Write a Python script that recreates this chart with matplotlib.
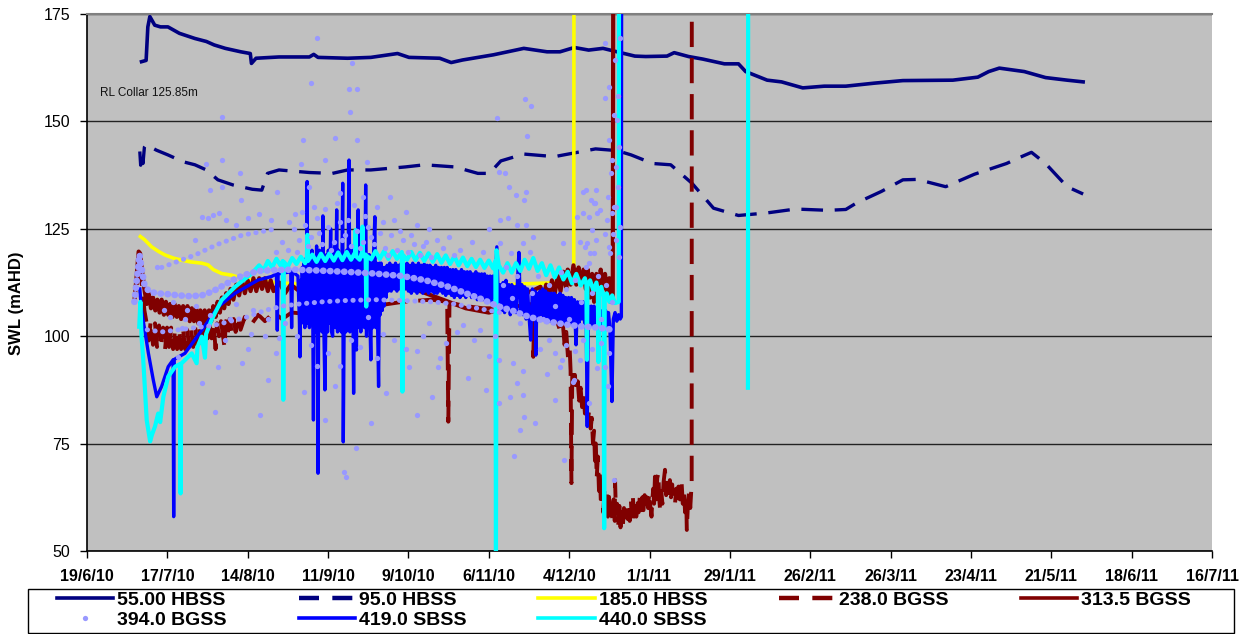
import numpy as np
import matplotlib
matplotlib.use('Agg')
import matplotlib.pyplot as plt
import matplotlib.dates as mdates
from matplotlib.lines import Line2D
from matplotlib.patches import Rectangle
from datetime import datetime, timedelta

plt.rcParams['font.family'] = ['Liberation Sans', 'DejaVu Sans']

# x values are days since 19/6/10, y values are SWL (mAHD)
START = datetime(2010, 6, 19)

navy_55 = [(19.0, 163.9), (20.6, 164.2), (21.2, 172.0), (21.9, 174.4), (23.6, 172.4), (25.6, 172.0),
           (28.2, 172.0), (32.2, 170.5), (37.6, 169.3), (41.6, 168.6), (44.3, 167.8), (48.2, 167.0),
           (53.6, 166.2), (56.9, 165.8), (57.3, 163.5), (58.9, 164.7), (66.9, 165.0), (77.5, 165.0),
           (79.0, 165.6), (80.5, 164.9), (90.8, 164.7), (98.9, 164.9), (108.2, 165.8), (112.2, 164.9),
           (122.9, 164.7), (126.9, 163.7), (130.9, 164.3), (141.6, 165.5), (152.2, 167.0), (160.3, 166.2),
           (164.8, 166.2), (169.8, 167.2), (174.8, 166.6), (179.8, 167.0), (184.7, 166.2), (190.9, 165.2),
           (194.7, 165.1), (202.1, 165.2), (204.6, 166.0), (209.6, 165.1), (214.6, 164.5), (222.1, 163.4),
           (227.0, 163.4), (229.5, 161.6), (237.0, 159.6), (242.0, 159.2), (249.4, 157.8), (256.9, 158.2),
           (264.4, 158.2), (274.3, 158.9), (284.3, 159.5), (301.7, 159.6), (310.4, 160.3), (314.2, 161.6),
           (317.9, 162.4), (326.6, 161.6), (334.0, 160.2), (341.5, 159.6), (347.1, 159.2)]

navy_95 = [(18.4, 143.0), (18.7, 139.8), (19.1, 142.8), (19.5, 140.2), (20.0, 144.0), (20.6, 144.6),
           (24.2, 143.3), (28.2, 142.2), (33.5, 140.6), (37.6, 139.9), (41.6, 138.7), (45.6, 136.4),
           (50.9, 135.2), (57.6, 134.2), (60.9, 134.0), (62.9, 137.9), (66.9, 138.7), (77.5, 138.1),
           (85.5, 137.9), (90.8, 138.7), (98.9, 138.7), (110.9, 139.4), (117.6, 139.9), (128.2, 139.4),
           (136.2, 137.9), (140.2, 137.9), (144.2, 140.8), (152.2, 142.4), (162.9, 141.8), (170.9, 142.8),
           (177.2, 143.6), (184.7, 143.2), (189.6, 142.2), (197.1, 140.2), (203.4, 139.9), (210.8, 135.6),
           (218.3, 129.8), (227.0, 128.1), (237.0, 128.7), (246.9, 129.6), (258.2, 129.3), (264.4, 129.5),
           (268.1, 131.0), (276.8, 133.7), (284.3, 136.4), (289.3, 136.5), (299.2, 134.8), (309.2, 137.7),
           (320.4, 140.2), (325.3, 141.7), (329.1, 142.8), (334.0, 140.2), (341.5, 134.8), (347.1, 133.1)]

yellow_185 = [(18.6, 123.2), (20.0, 122.5), (22.5, 120.8), (25.0, 119.7), (27.2, 118.9), (30.0, 118.2),
              (33.0, 117.7), (36.0, 117.3), (40.0, 117.0), (42.2, 116.6), (44.0, 115.5), (46.9, 114.6),
              (50.4, 114.2), (55.0, 113.3), (60.9, 112.7), (70.0, 112.3), (85.0, 111.8), (100.0, 111.3),
              (115.0, 111.0), (130.0, 111.5), (145.0, 112.0), (165.0, 112.5), (169.6, 112.8), (169.7, 200.0)]

dkred_238 = [(17.5, 112), (18.3, 119), (19.0, 113), (20.0, 106), (20.8, 103), (21.5, 99), (22.2, 103.5),
             (23.0, 98), (23.7, 103), (24.4, 97.5), (25.1, 102.5), (25.8, 97.5), (26.5, 102), (27.2, 97),
             (27.9, 102), (28.6, 97.5), (29.3, 102), (30.0, 97), (30.7, 101.5), (31.4, 97), (32.1, 101.5),
             (32.8, 97), (33.5, 101.5), (34.2, 97), (34.9, 101.5), (35.6, 97.5), (36.3, 101.5), (37.0, 97.5),
             (37.7, 102), (38.4, 98), (39.1, 102), (39.8, 98.5), (40.5, 102.5), (41.0, 96.8), (41.3, 102.5),
             (42.0, 99.5), (42.7, 103), (43.4, 99.5), (44.1, 103), (44.8, 97), (45.3, 103), (46.0, 100),
             (46.7, 103.5), (47.4, 100), (48.0, 97), (48.3, 103.5), (49.0, 100.5), (49.7, 104), (50.4, 101),
             (51.1, 104), (51.8, 101), (52.5, 104.5), (53.5, 101.5), (55.0, 104.5), (57.0, 102.5),
             (59.7, 105), (62.0, 103.5), (65.0, 105.5), (68.0, 104), (71.3, 105.5), (80.0, 105), (90.0, 106),
             (100.0, 107), (110.0, 108), (120.0, 108.5), (125.5, 108), (125.9, 80.1), (126.3, 107.8),
             (132.0, 107), (138.0, 106.5), (145.0, 106.5), (150.0, 107), (155.0, 107.5), (155.5, 95.2),
             (155.9, 107.5), (160.0, 107), (163.0, 105), (165.0, 101),
             (165.8, 103), (166.4, 98), (167.0, 101), (167.6, 95), (168.2, 97), (168.5, 92), (168.8, 65.8),
             (169.1, 92), (169.5, 89), (170.0, 91), (170.5, 87), (171.0, 89.5), (171.5, 85), (172.0, 88),
             (172.5, 83.5), (173.0, 86.5), (173.5, 82), (174.0, 85), (174.5, 80), (175.0, 83), (175.5, 78.5),
             (175.9, 81), (176.3, 75), (176.7, 78), (177.0, 71), (177.3, 75), (177.6, 67), (178.0, 72),
             (178.4, 64), (178.7, 68), (179.1, 60.5), (179.5, 65),
             (179.9, 59), (180.3, 64), (180.7, 58.5), (181.1, 63.5), (181.5, 58), (181.9, 62.6), (182.3, 57),
             (182.7, 61), (183.1, 56.5), (183.5, 62), (183.9, 57), (184.0, 66.5), (184.3, 58.8), (184.7, 61),
             (185.1, 56), (185.5, 60.5), (185.9, 55.5), (186.3, 59), (186.7, 55.7), (187.1, 60), (187.5, 56.5),
             (187.9, 59.5), (188.3, 57.5), (188.7, 61), (189.1, 57), (189.5, 62), (189.8, 58), (190.2, 62.6),
             (190.6, 58), (191.0, 61.5), (191.4, 58), (191.8, 62.5), (192.2, 59), (192.7, 63.4), (193.1, 59.5),
             (193.5, 62.5), (193.9, 59.5), (194.3, 63), (194.7, 60), (195.1, 62.5), (195.5, 60), (195.9, 63.5),
             (196.3, 60.5), (196.7, 58), (197.0, 62), (197.3, 64.5), (197.6, 61), (197.9, 67.3), (198.3, 62),
             (198.7, 67), (199.1, 68.1), (199.4, 62), (199.7, 59.5), (200.1, 64), (200.5, 61), (200.9, 66),
             (201.4, 68.9), (201.8, 63), (202.2, 67), (202.6, 63.5), (203.1, 66.5), (203.5, 62.5), (203.9, 65.5),
             (204.3, 61), (204.9, 61.1), (205.3, 64.5), (205.7, 61.5), (206.1, 65), (206.6, 62), (207.2, 65.8),
             (207.6, 61), (208.0, 64), (208.4, 59), (208.8, 62), (209.0, 54.9), (209.4, 61), (209.8, 64),
             (210.2, 60), (210.7, 65.8), (210.75, 200)]

dkred_313 = [(16.5, 108), (17.3, 114), (18.0, 119.7), (18.5, 119.3), (19.2, 115), (20.0, 111), (20.8, 107.5),
             (21.5, 110), (22.3, 106.5), (23.0, 109), (23.8, 106), (24.5, 108.5), (25.3, 105.5), (26.0, 108.5),
             (26.8, 105), (27.5, 108), (28.3, 105), (29.0, 107.5), (29.8, 104.5), (30.5, 107.5), (31.3, 104.5),
             (32.0, 107), (32.8, 104), (33.5, 107), (34.3, 104), (35.0, 107), (35.8, 103.5), (36.5, 106.5),
             (37.3, 103.5), (38.0, 106.5), (38.8, 103), (39.5, 106), (40.3, 103), (41.0, 106), (41.8, 103),
             (42.5, 106), (43.3, 103.5), (44.0, 107), (44.8, 104.5), (45.5, 108), (46.3, 105.5), (47.0, 109),
             (47.8, 106.5), (48.5, 110), (49.3, 107.5), (50.0, 111), (51, 108.5), (52, 112), (53, 109.5),
             (54, 113), (55, 110), (56, 113), (57, 110.5), (58, 113.5), (59, 110.5), (60, 113.5), (61, 111),
             (62, 113.5), (63, 110.5), (64, 113), (65, 110.5), (67, 112.5), (69, 110), (71, 112), (75, 110),
             (80, 110), (85, 110.3), (90, 110.5), (95, 110.8), (100, 111), (104, 111.5), (108, 112),
             (112, 111.5), (116, 110.5), (120, 109.5), (124, 108.5), (128, 107.5), (132, 106.5), (136, 106),
             (140, 105.5), (143, 106), (147, 108), (151, 109.5), (155, 110.5), (158, 111.5), (159, 108.5),
             (160, 112), (161, 109), (162, 113), (163, 110), (164, 114), (165, 110.5), (166, 115), (167, 111),
             (167.5, 115.5), (168.5, 112), (169.5, 116.5), (170.5, 112), (171.3, 116), (172, 112.5),
             (173, 115.5), (173.8, 111), (174.5, 115.5), (175.3, 109), (176, 114.5), (176.7, 108),
             (177.5, 114.5), (178.3, 110.5), (179, 115.5), (179.8, 111), (180.5, 114.5), (181.3, 109.5),
             (182, 113.5), (182.5, 108), (183.2, 109), (183.4, 200)]

blue_419 = [(18.4, 111), (19.0, 106), (19.5, 104), (20.2, 101), (21.4, 96), (23.1, 89.8), (24.3, 85.9),
            (26.0, 88.3), (28.3, 92.9), (30.0, 94.5), (30.2, 58.0), (30.4, 94.6), (34.1, 96.0), (40.0, 101.4),
            (45.8, 106.9), (51.6, 110.0), (59.7, 113.1), (64.3, 113.9), (66.0, 114.5), (66.3, 101.4),
            (66.6, 114.5), (71.0, 115.0), (71.3, 102.0), (71.6, 115.0),
            (73.5, 114), (74.0, 104), (74.2, 95.2), (74.4, 113), (74.7, 103), (75.0, 116), (75.3, 104),
            (75.6, 117), (75.9, 102), (76.2, 118), (76.5, 104), (76.7, 136), (76.9, 103), (77.2, 119),
            (77.5, 102), (77.8, 118), (78.1, 103), (78.4, 120), (78.7, 102), (78.9, 80.5), (79.1, 103),
            (79.4, 118), (79.7, 101), (80.0, 121), (80.3, 104), (80.5, 68.1), (80.7, 103), (81.0, 120),
            (81.3, 102), (81.6, 119), (81.9, 101), (82.2, 128), (82.5, 103), (82.9, 87.5), (83.2, 102),
            (83.5, 119), (83.8, 101), (84.1, 120), (84.4, 103), (84.9, 125), (85.2, 101), (85.6, 100),
            (85.9, 119), (86.3, 121), (86.6, 102), (87.0, 129.4), (87.3, 101), (87.6, 120), (87.9, 102),
            (88.3, 119), (88.6, 101), (89.1, 135.6), (89.3, 75.4), (89.6, 103), (89.9, 118), (90.2, 101),
            (90.5, 120), (90.8, 102), (91.3, 141), (91.6, 101), (91.9, 119), (92.2, 102), (92.4, 121),
            (92.7, 103), (92.9, 86.7), (93.1, 102), (93.4, 119), (93.7, 102), (93.9, 96.8), (94.1, 118),
            (94.5, 129.4), (94.8, 102), (95.1, 119), (95.4, 101), (95.8, 120), (96.1, 103), (96.4, 118),
            (96.7, 102), (97.1, 135.2), (97.4, 100), (97.7, 118), (98.0, 102), (98.3, 119), (98.6, 103),
            (98.9, 94.5), (99.2, 117), (99.5, 102), (99.8, 118), (100.3, 127.8), (100.6, 102), (100.9, 117),
            (101.2, 104), (101.6, 88.3), (101.9, 117), (102.2, 105), (102.5, 117), (102.9, 106), (103.2, 116),
            (103.5, 107), (103.8, 116), (104.2, 109), (104.6, 116.5),
            (105.0, 110.5), (105.5, 117), (106.0, 110.5), (106.5, 116.5), (107.0, 111), (107.5, 117),
            (108.0, 110.5), (108.5, 116.5), (109.0, 111), (109.5, 117), (110.0, 110.5), (110.5, 116.5),
            (111.0, 111), (111.5, 117), (112.0, 110.5), (112.5, 116.5), (113.0, 110), (113.5, 117),
            (114.0, 110.5), (114.5, 116.5), (115.0, 110), (115.5, 117), (116.0, 110.5), (116.5, 116.5),
            (117.0, 110), (117.5, 116.8), (118.0, 110.5), (118.5, 116.5), (119.0, 110), (119.5, 116.5),
            (120.0, 110.5), (120.5, 116), (121.0, 110), (121.5, 116.5), (122.0, 110), (122.5, 116),
            (123.0, 110.5), (123.5, 116), (124.0, 110), (124.5, 116), (125.0, 109.5), (125.5, 116),
            (126.0, 110), (126.5, 115.5), (127.0, 109.5), (127.5, 115.5), (128.0, 109), (128.5, 115.5),
            (129.0, 109.5), (129.5, 115), (130.0, 109), (130.5, 115.5), (131.0, 109.5), (131.5, 115),
            (132.0, 109), (132.5, 115), (133.0, 109.5), (133.5, 115), (134.0, 109), (134.5, 114.5),
            (135.0, 109), (135.5, 115), (136.0, 108.5), (136.5, 114.5), (137.0, 109), (137.5, 114.5),
            (138.0, 108.5), (138.5, 114.5), (139.0, 108), (139.5, 114), (140.0, 108.5), (140.5, 114),
            (141.0, 108), (141.5, 114), (142.0, 109), (142.8, 120.8), (143.3, 108),
            (144.0, 112), (144.5, 106), (145.0, 112.5), (145.5, 105.5), (146.0, 113), (146.5, 106),
            (147.0, 112), (147.5, 105), (148.0, 112), (148.5, 106), (149.0, 111.5), (149.5, 105.5),
            (150.0, 113), (150.5, 119.5), (151.0, 106), (151.5, 112), (152.0, 105), (152.5, 111.5),
            (153.0, 104), (153.5, 111), (154.0, 105), (154.6, 99.1), (155.2, 111), (155.7, 104.5),
            (156.1, 110.5), (156.4, 95.6), (156.8, 110), (157.3, 104), (157.8, 110.5), (158.3, 105),
            (158.8, 111), (159.3, 104), (159.8, 110.5), (160.3, 104), (160.8, 110), (161.3, 103.5),
            (161.8, 110), (162.3, 103), (162.8, 110), (163.3, 104), (163.8, 109.5), (164.3, 103.5),
            (164.8, 110), (165.3, 103), (165.8, 109.5), (166.3, 103), (166.8, 109), (167.3, 103.5),
            (167.8, 109), (168.3, 103), (168.8, 109), (169.3, 103), (169.8, 108.5), (170.4, 98), (170.9, 108),
            (171.4, 103), (171.9, 108), (172.4, 104), (172.9, 108), (173.4, 103), (173.9, 107.5), (174.3, 79),
            (174.7, 107), (175.2, 103), (175.7, 107), (176.2, 102.5), (176.7, 107), (177.2, 102),
            (177.7, 106.5), (178.2, 102), (178.7, 106), (179.2, 101.5), (179.7, 106), (180.2, 101),
            (180.7, 106), (181.2, 101.5), (181.7, 105.5), (182.2, 102), (182.9, 84.8), (183.4, 104),
            (184.0, 105.5), (184.6, 103.5), (185.2, 105), (185.8, 104), (186.2, 104.5), (186.3, 200)]

cyan_440 = [(18.2, 102.2), (18.6, 108), (19.0, 100), (19.6, 94.5), (20.8, 80.5), (22.0, 75.5), (22.6, 77.0),
            (23.7, 79.0), (24.8, 82.0), (25.5, 80.0), (26.6, 85.9), (28.3, 90.6), (30.7, 92.9), (32.4, 93.5),
            (32.6, 63.4), (32.8, 93.6), (36.5, 96.0), (38.2, 93.7), (38.5, 97.5), (40.0, 99.9), (41.1, 95.0),
            (41.5, 100.5), (43.4, 103.8), (46.9, 108.4), (51.6, 111.5), (57.4, 114.6), (60, 116.5),
            (61.5, 115.3), (63, 117.5), (64.5, 116), (66, 118), (67.5, 116.4), (68.2, 117.5), (68.4, 85.2),
            (68.6, 117.3), (70, 116.2), (71.5, 118.2), (73, 116.8), (74.5, 118.5), (76, 117), (76.6, 118),
            (76.8, 123.6), (77.0, 117.5), (78.5, 119), (80, 117.3), (81.5, 119.2), (83, 117.5), (84.5, 119.3),
            (86, 117.6), (87.5, 119.5), (89, 117.7), (90.5, 119.6), (92, 117.8), (93.4, 119.5), (93.6, 124.7),
            (93.8, 118.6), (95, 117.8), (95.8, 119.5), (96.0, 125.5), (96.2, 118.6), (97.1, 119),
            (97.3, 106.9), (97.5, 118.7), (99, 117.9), (100.5, 119.8), (102, 118), (103.5, 119.8), (105, 118),
            (106.5, 119.8), (108, 118), (109.7, 119.6), (109.9, 87.1), (110.1, 118.9), (111.5, 117.8),
            (113, 119.6), (114.5, 117.7), (116, 119.4), (117.5, 117.5), (119, 119.3), (120.5, 117.3),
            (122, 119.1), (123.5, 117.1), (125, 118.8), (126.5, 116.8), (128, 118.6), (129.5, 116.5),
            (131, 118.3), (132.5, 116.3), (134, 118), (135.5, 116.1), (137, 117.8), (138.5, 115.9), (140, 117.6),
            (141.5, 115.8), (142.3, 117.5), (142.5, 49), (142.7, 120), (143.5, 116.5), (145, 114.8),
            (146.5, 117), (148, 114.8), (149.5, 117), (151, 115.2), (152.5, 117.8), (154, 115.7), (155.5, 118.2),
            (157, 115.2), (158.5, 117), (160, 114.2), (161.5, 116.5), (163, 113.7), (164.5, 116), (166, 113.2),
            (167.5, 115), (169, 112.3), (170.5, 114.5), (172, 111.8), (173.5, 113.5), (174.0, 112),
            (174.2, 94.5), (174.4, 111.8), (175.3, 113), (176.5, 110.5), (177.5, 112.5), (178.0, 110.5),
            (178.2, 94.0), (178.4, 110.0), (179.2, 111.5), (180.0, 109), (180.2, 55.3), (180.4, 108.7),
            (181.1, 110), (182, 108), (183, 109.5), (184.0, 107.7), (185.3, 108), (185.4, 200),
            (np.nan, np.nan), (230.3, 88.0), (230.4, 200.0)]

# 394.0 BGSS: dense bands of readings plus scattered readings
purple_band_main = [(16.5, 108), (17.5, 114), (18.3, 119), (19.0, 116), (20.0, 112), (21.5, 110.5), (24, 110),
                    (28, 109.8), (32, 109.5), (36, 109.3), (40, 109.5), (44, 110.5), (48, 112), (52, 113.5),
                    (56, 114.5), (60, 115.2), (66, 115.4), (72, 115.5), (80, 115.3), (90, 115), (100, 114.6),
                    (110, 114), (118, 113), (126, 111.5), (132, 110), (138, 108.5), (143, 107), (148, 106),
                    (154, 104.5), (160, 103.5), (166, 102.8), (172, 102.3), (178, 102), (183, 101.5)]
purple_band_low = [(21, 101.5), (26, 101), (32, 101.5), (38, 102), (44, 102.5), (50, 103.5), (56, 104.5),
                   (62, 106), (68, 107), (74, 107.5), (82, 108), (90, 108.3), (100, 108.5), (110, 108.3),
                   (120, 108), (128, 107.5), (136, 106.5), (144, 105.5)]
purple_band_high = [(26, 116), (30, 117), (34, 118), (38, 119), (42, 120.3), (46, 121.5), (50, 122.5),
                    (54, 123.5), (58, 124), (62, 124.5), (66, 125)]
purple_394 = [
    (24.3, 116.2), (31.8, 95.2), (37.6, 122.4), (40, 89), (44.6, 82.4), (45.8, 92.9), (53.9, 93.7),
    (60.3, 81.6), (63.2, 89.8), (27, 106), (29, 104.5), (33, 102), (35, 106), (39, 103), (43, 105), (48, 99),
    (50, 104), (56, 97), (58, 106), (62, 100), (66, 96), (69, 103), (30, 108), (34, 104), (38, 107),
    (52, 107.5), (57, 100.5), (63, 104), (67, 99.5), (73, 100),
    (41.6, 140.2), (42.8, 134), (46.9, 134.8), (47.2, 141), (47.2, 151.1), (53.3, 138.1), (53.6, 131.7),
    (40.2, 127.8), (42, 127.5), (44, 128.3), (46, 128.7), (48.5, 127), (52, 126), (56, 127.5), (60, 128.5),
    (64, 127), (66.2, 133.6),
    (74.6, 140.2), (75.3, 145.7), (77.5, 134.8), (78.2, 158.9), (80.2, 169.5), (82.9, 141), (86.3, 146.1),
    (88.2, 133.3), (91.2, 157.5), (91.5, 152.3), (92.2, 163.5), (94.2, 157.5), (94.2, 145.7), (96.2, 132.5),
    (97.5, 140.6), (105.6, 132.5), (72, 125), (74, 122.5), (76, 126), (78, 123), (80, 127.5), (82, 121.5),
    (84, 125.5), (86, 122), (88, 126.5), (90, 123.5), (92, 121), (94, 124.5), (96, 122), (98, 125.5),
    (100, 121.5), (102, 124), (104, 120.5), (106, 123.5), (108, 120), (110, 122.5), (112, 119.5),
    (114, 121.5), (116, 119), (118, 122), (120, 118.5), (124, 120.5), (128, 119),
    (66, 119.5), (68, 122), (70, 120), (70.5, 126.5), (72.5, 128.5), (73, 119.5), (75, 129), (77, 121),
    (79, 130), (81, 124), (83, 129.5), (85, 120), (87, 131), (89, 122.5), (91, 127), (93, 130.5),
    (95, 120.5), (97, 128), (99, 123), (101, 130), (103, 126.5), (105, 119), (107, 127), (109, 124.5),
    (111, 129), (113, 123.5), (115, 126), (117, 121), (119, 125), (122, 122.5), (126, 123), (130, 120),
    (134, 122), (138, 119.5), (140, 125),
    (75.6, 87.1), (82.9, 80.5), (86.3, 88.3), (89.5, 68.5), (90.2, 67.3), (93.6, 73.9), (98.9, 79.7),
    (104.2, 86.7), (112.2, 92.9), (114.9, 81.6), (120.2, 85.9), (122.2, 92.9), (132.9, 90.2), (138.9, 87.5),
    (143.6, 84.4), (78, 98), (84, 96), (88, 93), (95, 97.5), (101, 95), (107, 99), (111, 97), (117, 100),
    (125, 98.5), (129, 101), (135, 99), (80, 93), (92, 99), (98, 104.5), (103, 100.5), (115, 96.5),
    (119, 103), (123, 95), (131, 102.5), (137, 101.5), (140, 95.5), (142, 100),
    (142.9, 150.9), (143.5, 138.3), (143.9, 127), (143.9, 121.6), (145.6, 137.9), (146.8, 127.4),
    (146.9, 134.8), (147.9, 119.3), (149.6, 132.9), (149.7, 125.9), (152, 121.6), (152.3, 131.7),
    (152.6, 155.1), (152.9, 133.6), (153.1, 125.9), (153.3, 146.6), (154.3, 119.7), (154.6, 153.7),
    (155.5, 123.2), (165.9, 121.6), (170.9, 127.8), (171.8, 122), (172.8, 133.6), (174.1, 121.6),
    (175.3, 119.3), (177, 130.9), (177.5, 134), (177.6, 128.6), (178.7, 129.4), (180.5, 123.9),
    (181.1, 127), (182.2, 119.3), (183.3, 123.9), (184.5, 130.1),
    (143.4, 94.5), (147.4, 85.9), (148.6, 93.7), (148.9, 72), (149.7, 89), (150.9, 78.2), (152, 91.8),
    (152, 86.3), (152.2, 81.3), (156.2, 79.7), (160.2, 91.3), (162.9, 85.2), (164.8, 92.9), (165.4, 94.5),
    (166.2, 71.2), (169.4, 89.4), (169.6, 89.8), (171.8, 94.5), (174.9, 84.4), (177.6, 92.5), (180.5, 92.9),
    (181.6, 88.3), (183.6, 66.5), (158, 97), (161, 99), (163, 96), (167, 98), (170, 96.5), (173, 99),
    (176, 97), (179, 98.5), (182, 96),
    (145, 112), (146, 116), (148, 109), (150, 114), (151, 103), (155, 110), (157, 114), (159, 104),
    (161, 112), (163, 107), (165, 115), (167, 111), (168, 104), (170, 113), (172, 108), (174, 116),
    (176, 110), (178, 114), (179, 104), (181, 112), (183, 108),
    (180.4, 168.2), (184, 164.3), (185.6, 169.3), (182, 158.1), (185, 155.8), (180.6, 155.4), (183.5, 151.5),
    (184.7, 150.3), (181.8, 145.7), (185.3, 144.1), (183, 141), (184.2, 139.5), (182.5, 137.9), (185, 134.8),
    (181.5, 132.5), (183.8, 130.1), (182.8, 128.6), (185.8, 125.5), (184.5, 122.4), (182, 120.8),
    (185.2, 118.5), (174, 134), (175.5, 131.7), (176.5, 130.9), (173, 128.6), (174.8, 127.8), (176, 124.7),
    (177.5, 122.4), (173.6, 120.8), (176.8, 119.3), (175, 117)]

y_ticks = [50, 75, 100, 125, 150, 175]
tick_step_days = 28
n_ticks = 15


def xy(pairs):
    d = np.array([p[0] for p in pairs], dtype=float)
    v = np.array([p[1] for p in pairs], dtype=float)
    return mdates.date2num(START) + d, v


fig = plt.figure(figsize=(12.56, 6.34), dpi=100)
ax = fig.add_axes([87 / 1256, 1 - 551 / 634, 1125 / 1256, 537 / 634])
ax.set_facecolor('#C0C0C0')

NAVY, YEL, DKR, PUR, BLU, CYA = '#000080', '#FFFF00', '#800000', '#9999FF', '#0000FF', '#00FFFF'

ax.plot(*xy(navy_55), color=NAVY, lw=2.6, zorder=2, solid_joinstyle='round')
ax.plot(*xy(navy_95), color=NAVY, lw=2.4, dashes=(6.5, 3.5), zorder=2)
ax.plot(*xy(yellow_185), color=YEL, lw=2.6, zorder=2.5)
ax.plot(*xy(dkred_238), color=DKR, lw=2.8, dashes=(6.5, 2.8), zorder=3)
ax.plot(*xy(dkred_313), color=DKR, lw=3.0, zorder=3)
ax.plot(*xy(blue_419), color=BLU, lw=2.4, zorder=4)
ax.plot(*xy(cyan_440), color=CYA, lw=3.0, zorder=5)
ax.plot(*xy(purple_band_main), color=PUR, lw=4.8, dashes=(0.05, 1.0), dash_capstyle='round', zorder=6)
ax.plot(*xy(purple_band_low), color=PUR, lw=3.6, dashes=(0.05, 1.5), dash_capstyle='round', zorder=6)
ax.plot(*xy(purple_band_high), color=PUR, lw=3.6, dashes=(0.05, 1.5), dash_capstyle='round', zorder=6)
ax.plot(*xy(purple_394), linestyle='none', marker='o', markersize=3.8, color=PUR,
        markeredgewidth=0, zorder=6)

ax.text(13 / 1125, 0.853, 'RL Collar 125.85m', transform=ax.transAxes,
        fontsize=8.5, va='center', ha='left', color='#111111')

# axes
tick_dates = [START + timedelta(days=tick_step_days * i) for i in range(n_ticks)]
ax.set_xlim(mdates.date2num(tick_dates[0]), mdates.date2num(tick_dates[-1]))
ax.set_xticks(mdates.date2num(tick_dates))
ax.set_xticklabels([f'{d.day}/{d.month}/{d.year % 100}' for d in tick_dates],
                   fontsize=11.5, fontweight='bold')
ax.set_ylim(50, 175)
ax.set_yticks(y_ticks)
ax.set_yticklabels([str(t) for t in y_ticks], fontsize=11.5)
ax.tick_params(axis='x', direction='out', length=5, width=1, pad=8)
ax.tick_params(axis='y', direction='out', length=5, width=1, pad=7)
ax.yaxis.grid(True, color='#222222', lw=1)
ax.set_axisbelow(True)
for s in ['left', 'bottom']:
    ax.spines[s].set_color('black')
    ax.spines[s].set_linewidth(1.2)
ax.spines['top'].set_color('#808080')
ax.spines['top'].set_linewidth(1.5)
ax.spines['right'].set_visible(False)

fig.text(17 / 1256, 1 - 303 / 634, 'SWL (mAHD)', rotation=90, fontsize=12, fontweight='bold',
         ha='center', va='center')

handles = {
    '55.00 HBSS': Line2D([], [], color=NAVY, lw=2.6),
    '95.0 HBSS': Line2D([], [], color=NAVY, lw=3.2, dashes=(4.5, 3.0)),
    '185.0 HBSS': Line2D([], [], color=YEL, lw=2.6),
    '238.0 BGSS': Line2D([], [], color=DKR, lw=3.2, dashes=(4.5, 3.0)),
    '313.5 BGSS': Line2D([], [], color=DKR, lw=2.6),
    '394.0 BGSS': Line2D([], [], linestyle='none', marker='o', markersize=3.8, color=PUR, markeredgewidth=0),
    '419.0 SBSS': Line2D([], [], color=BLU, lw=2.6),
    '440.0 SBSS': Line2D([], [], color=CYA, lw=2.6),
}
# legend fills column by column, so order the entries to read across rows
order = ['55.00 HBSS', '394.0 BGSS', '95.0 HBSS', '419.0 SBSS', '185.0 HBSS', '440.0 SBSS',
         '238.0 BGSS', '313.5 BGSS']
leg = fig.legend([handles[k] for k in order], order, ncol=5, loc='upper left',
                 bbox_to_anchor=(57 / 1256, 1 - 591 / 634), borderaxespad=0, borderpad=0,
                 frameon=False, handlelength=2.9, handletextpad=0.2, columnspacing=3.7,
                 labelspacing=0.12, prop={'weight': 'bold', 'size': 14})
fig.patches.append(Rectangle((28 / 1256, 1 / 634), 1206 / 1256, 44 / 634, transform=fig.transFigure,
                             fill=False, edgecolor='black', lw=1.0))

fig.savefig('out.png', dpi=100, facecolor='white')
